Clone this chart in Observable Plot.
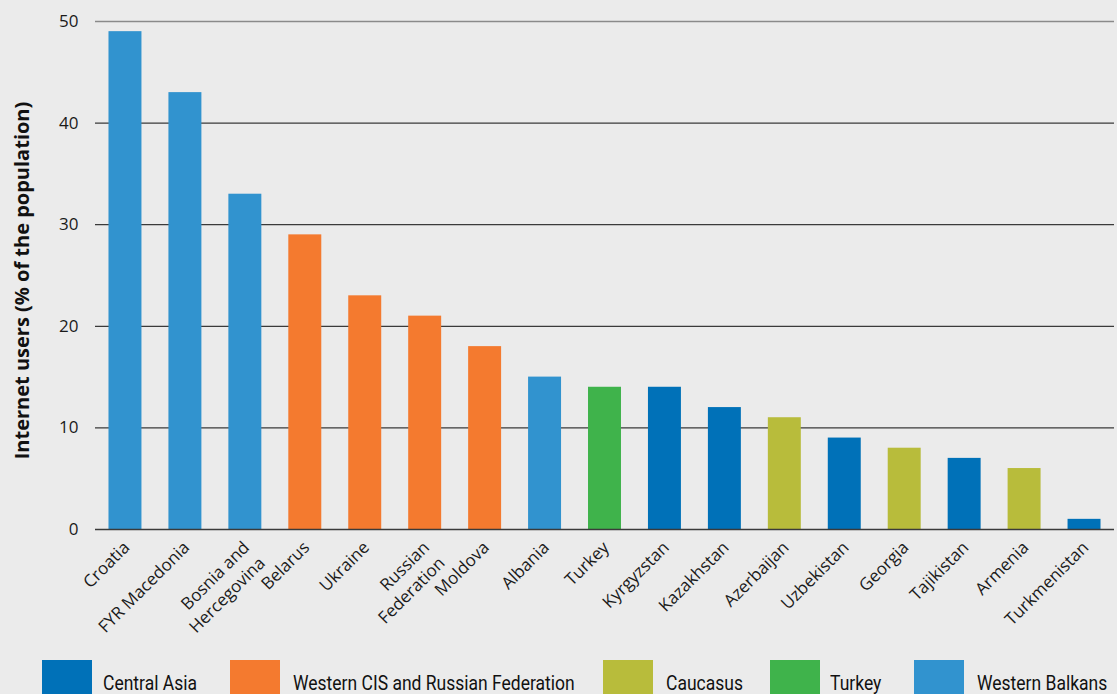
<!DOCTYPE html>
<html>
<head>
<meta charset="utf-8">
<script src="https://cdn.jsdelivr.net/npm/d3@7"></script>
<script src="https://cdn.jsdelivr.net/npm/@observablehq/plot@0.6"></script>
<style>
  html, body { margin: 0; padding: 0; background: #ebebeb; width: 1117px; height: 694px; overflow: hidden; }
  #chart svg { display: block; background: #ebebeb; }
  #legend { position: relative; width: 1117px; height: 44px; overflow: hidden; }
  .sw { position: absolute; top: 10px; width: 50px; height: 40px; }
  .lb { position: absolute; top: 23px; font-family: "Roboto", sans-serif; font-size: 20px; line-height: 20px; color: #111; white-space: nowrap; transform: scaleX(0.875); transform-origin: left center; }
</style>
</head>
<body>
<div id="chart"></div>
<div id="legend"></div>
<script>
const countries = ["Croatia", "FYR Macedonia", "Bosnia and Hercegovina", "Belarus", "Ukraine", "Russian Federation", "Moldova", "Albania", "Turkey", "Kyrgyzstan", "Kazakhstan", "Azerbaijan", "Uzbekistan", "Georgia", "Tajikistan", "Armenia", "Turkmenistan"];
const labels = ["Croatia", "FYR Macedonia", "Bosnia and\nHercegovina", "Belarus", "Ukraine", "Russian\nFederation", "Moldova", "Albania", "Turkey", "Kyrgyzstan", "Kazakhstan", "Azerbaijan", "Uzbekistan", "Georgia", "Tajikistan", "Armenia", "Turkmenistan"];
const values = [49, 43, 33, 29, 23, 21, 18, 15, 14, 14, 12, 11, 9, 8, 7, 6, 1];
const regions = ["Western Balkans", "Western Balkans", "Western Balkans", "Western CIS and Russian Federation", "Western CIS and Russian Federation", "Western CIS and Russian Federation", "Western CIS and Russian Federation", "Western Balkans", "Turkey", "Central Asia", "Central Asia", "Caucasus", "Central Asia", "Caucasus", "Central Asia", "Caucasus", "Central Asia"];
const legendRegions = ["Central Asia", "Western CIS and Russian Federation", "Caucasus", "Turkey", "Western Balkans"];
const legendColors = ["#0071b8", "#f47a2f", "#b8bc3b", "#3fb34b", "#3193cf"];
const yTicks = [0, 10, 20, 30, 40, 50];
const yTitle = "Internet users (% of the population)";

const data = countries.map((c, i) => ({country: c, label: labels[i], value: values[i], region: regions[i]}));

const chart = Plot.plot({
  width: 1117,
  height: 650,
  marginLeft: 95,
  marginRight: 3,
  marginTop: 21,
  marginBottom: 121,
  style: {background: "#ebebeb", fontFamily: "'Open Sans', sans-serif", color: "#1a1a1a"},
  x: {domain: countries, paddingInner: 0.45, paddingOuter: 0.225, round: false, axis: null},
  y: {domain: [0, 50], axis: null},
  color: {domain: legendRegions, range: legendColors},
  marks: [
    Plot.ruleY(yTicks.filter(d => d > 0 && d < 50), {stroke: "#3a3a3a", strokeWidth: 1.2}),
    Plot.ruleY([50], {stroke: "#8a8a8a", strokeWidth: 1.5}),
    Plot.barY(data, {x: "country", y: "value", fill: "region"}),
    Plot.ruleY([0], {stroke: "#3a3a3a", strokeWidth: 1.5}),
    Plot.ruleX([{}], {frameAnchor: "left", y1: 0, y2: 50, stroke: "#3a3a3a", strokeWidth: 1.5}),
    Plot.axisY(yTicks, {tickSize: 0, tickPadding: 17, fontSize: 17, label: null, tickFormat: d => String(d), fill: "#1a1a1a"}),
    Plot.text(data, {x: "country", y: 0, text: "label", rotate: -45, textAnchor: "end", lineAnchor: "top", dx: -6, dy: 8, fontSize: 17, lineHeight: 1.3, fill: "#1a1a1a"}),
    Plot.text([{t: yTitle}], {text: "t", frameAnchor: "left", textAnchor: "middle", dx: -73, dy: 5, rotate: -90, fontWeight: "bold", fontSize: 20, fill: "#111"})
  ]
});
document.getElementById("chart").appendChild(chart);

const legendPos = [[42, 103], [230, 293], [603, 666], [770, 830], [914, 977]];
const lg = document.getElementById("legend");
legendRegions.forEach((r, i) => {
  const sw = document.createElement("div");
  sw.className = "sw";
  sw.style.left = legendPos[i][0] + "px";
  sw.style.background = legendColors[i];
  lg.appendChild(sw);
  const lb = document.createElement("div");
  lb.className = "lb";
  lb.style.left = legendPos[i][1] + "px";
  lb.textContent = r;
  lg.appendChild(lb);
});
</script>
</body>
</html>
